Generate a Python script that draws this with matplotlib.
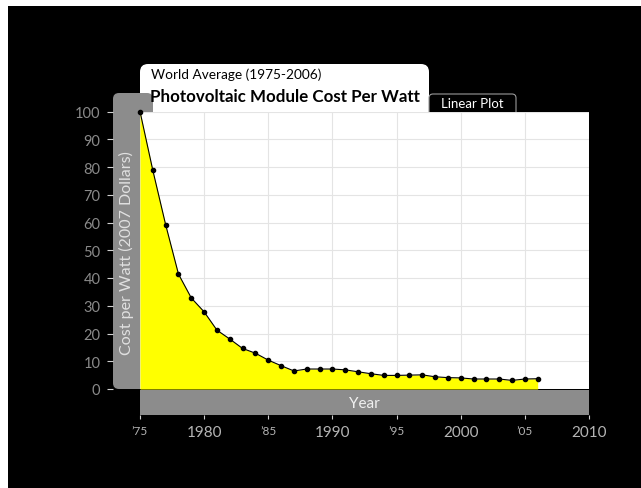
import matplotlib
matplotlib.use("Agg")
import matplotlib.pyplot as plt
from matplotlib.patches import FancyBboxPatch, Rectangle
import numpy as np

years = [1975, 1976, 1977, 1978, 1979, 1980, 1981, 1982, 1983, 1984, 1985,
         1986, 1987, 1988, 1989, 1990, 1991, 1992, 1993, 1994, 1995, 1996,
         1997, 1998, 1999, 2000, 2001, 2002, 2003, 2004, 2005, 2006]
cost = [100, 78.8, 59.2, 41.4, 32.8, 27.8, 21.2, 18.0, 14.6, 12.9, 10.4,
        8.4, 6.5, 7.2, 7.2, 7.2, 6.9, 6.2, 5.5, 4.9, 4.9, 5.0,
        5.1, 4.4, 4.1, 4.0, 3.6, 3.6, 3.6, 3.1, 3.6, 3.7]
xticks = [1975, 1980, 1985, 1990, 1995, 2000, 2005, 2010]
xtick_labels = ["\u201975", "1980", "\u201985", "1990", "\u201995", "2000", "\u201905", "2010"]
yticks = [0, 10, 20, 30, 40, 50, 60, 70, 80, 90, 100]

W, H = 641, 489
plt.rcParams['font.family'] = ['Lato', 'DejaVu Sans']
fig = plt.figure(figsize=(W / 100, H / 100), dpi=100, facecolor='white')

# background / decoration axes in pixel coordinates
bg = fig.add_axes([0, 0, 1, 1], zorder=0)
bg.set_xlim(0, W)
bg.set_ylim(H, 0)
bg.axis('off')
bg.add_patch(Rectangle((8, 7), W - 8, H - 7, facecolor='black', edgecolor='none'))
GRAY = '#8c8c8c'
# title box
bg.add_patch(FancyBboxPatch((140, 65), 289, 60, boxstyle="round,pad=0,rounding_size=8",
                            facecolor='white', edgecolor='none'))
# left gray band
bg.add_patch(FancyBboxPatch((113, 94), 40, 296, boxstyle="round,pad=0,rounding_size=6",
                            facecolor=GRAY, edgecolor='none'))
# bottom gray band
bg.add_patch(Rectangle((140, 391), 449, 25, facecolor=GRAY, edgecolor='none'))
# Linear plot tab
bg.add_patch(FancyBboxPatch((429, 95), 87, 25, boxstyle="round,pad=0,rounding_size=4",
                            facecolor='black', edgecolor='#9a9a9a', linewidth=0.8))
bg.text(472, 104.5, "Linear Plot", color='white', fontsize=9.5, ha='center', va='center')
bg.text(151, 75, "World Average (1975-2006)", color='black', fontsize=9.8, ha='left', va='center')
bg.text(150, 97, "Photovoltaic Module Cost Per Watt", color='black', fontsize=12.2,
        fontweight='bold', ha='left', va='center')
bg.text(126, 253, "Cost per Watt (2007 Dollars)", color='#e0e0e0', fontsize=11.5,
        rotation=90, ha='center', va='center')
bg.text(364, 404, "Year", color='#f0f0f0', fontsize=11, ha='center', va='center')

# main axes
left, right = 140 / W, 589 / W
bottom, top = 1 - 390 / H, 1 - 112.5 / H
ax = fig.add_axes([left, bottom, right - left, top - bottom], zorder=1)
ax.set_facecolor('white')
ax.set_xlim(1975, 2010)
ax.set_ylim(0, 100)
ax.fill_between(years, cost, 0, color='#ffff00', zorder=2, linewidth=0)
ax.plot(years, cost, color='black', linewidth=0.8, marker='o', markersize=3.0,
        zorder=3, clip_on=False)
ax.set_xticks(xticks)
ax.set_xticklabels(xtick_labels)
ax.set_yticks(yticks)
ax.grid(True, color='#e4e4e4', linewidth=0.8, zorder=1)
ax.set_axisbelow(True)
for s in ax.spines.values():
    s.set_visible(False)
ax.spines['left'].set_position(('outward', 27 * 0.72))
ax.spines['bottom'].set_position(('outward', 26 * 0.72))
ax.tick_params(axis='y', colors='#d0d0d0', length=4, width=0.8, pad=5, labelsize=10.5,
               labelcolor='#8a8a8a')
ax.tick_params(axis='x', colors='#d0d0d0', length=3, width=0.8, pad=4, labelsize=11,
               labelcolor='#b4b4b4')
for lbl, t in zip(ax.get_xticklabels(), xtick_labels):
    if t.startswith('\u2019'):
        lbl.set_fontsize(8.5)
        lbl.set_va('top')

fig.savefig('out.png', dpi=100, facecolor='white')
